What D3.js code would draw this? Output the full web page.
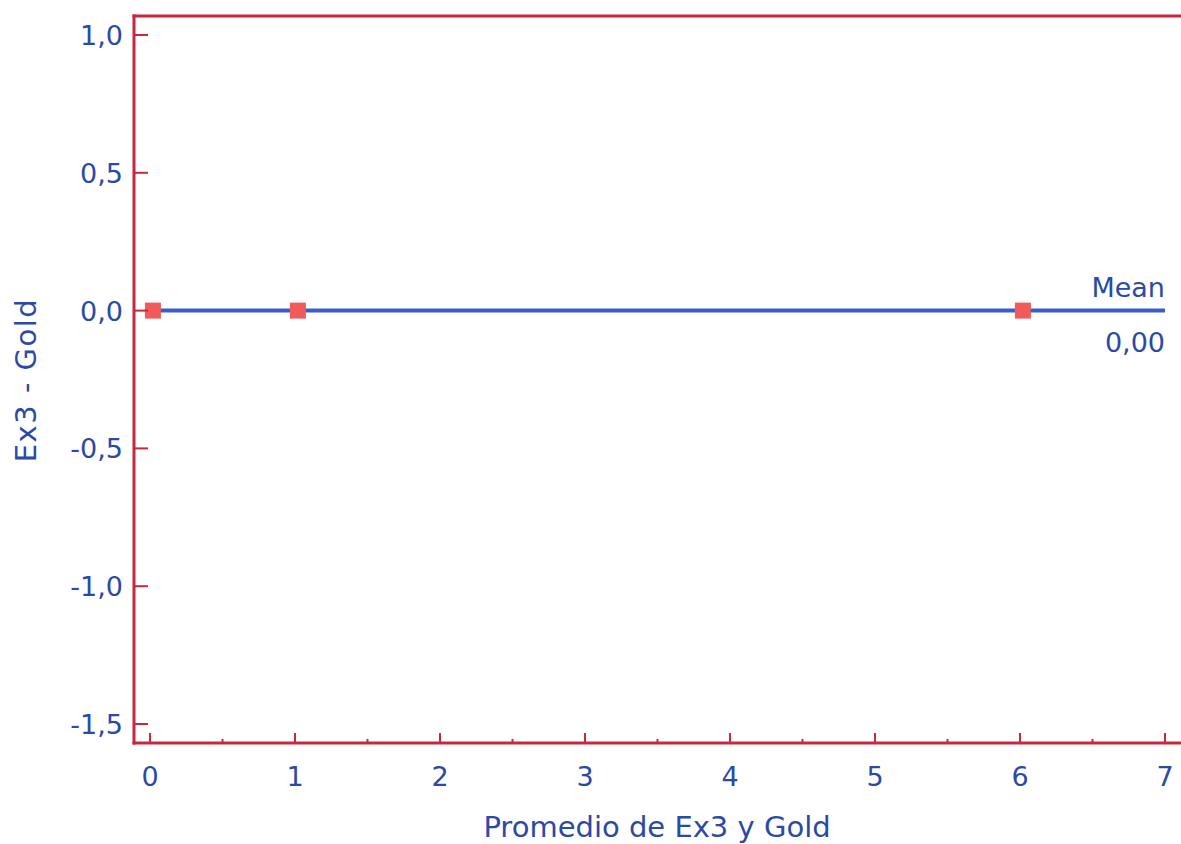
<!DOCTYPE html>
<meta charset="utf-8">
<style>
body { margin: 0; background: #fff; overflow: hidden; }
text { font-family: "DejaVu Sans", sans-serif; fill: #2a4aa6; }
</style>
<body>
<script src="https://cdn.jsdelivr.net/npm/d3@7"></script>
<script>

// data
var xVals = [0.02, 1.02, 6.02];   // Promedio de Ex3 y Gold
var yVals = [0, 0, 0];            // Ex3 - Gold
var meanVal = 0;
var xTicks = [0, 1, 2, 3, 4, 5, 6, 7];
var xMinor = [0.5, 1.5, 2.5, 3.5, 4.5, 5.5, 6.5];
var yTicks = [1.0, 0.5, 0.0, -0.5, -1.0, -1.5];

var W = 1181, H = 844;
var plotLeft = 134, plotTop = 16, plotBottom = 743, plotRight = 1190;

var x = d3.scaleLinear().domain([0, 7]).range([150, 1165]);
var y = d3.scaleLinear().domain([1, -1.5]).range([35, 724]);

var fmt = function(d) { return d3.format(".1f")(d).replace(".", ",").replace("−", "-"); };

var svg = d3.select("body").append("svg")
    .attr("width", W)
    .attr("height", H)
    .style("display", "block");

var red = "#c8283c";

// mean line
svg.append("line")
    .attr("x1", x(d3.min(xVals))).attr("x2", x(7))
    .attr("y1", y(meanVal)).attr("y2", y(meanVal))
    .attr("stroke", "#3a5ccc").attr("stroke-width", 4);

svg.append("text")
    .attr("x", 1165).attr("y", 297)
    .attr("text-anchor", "end")
    .style("font-size", "27px")
    .text("Mean");
svg.append("text")
    .attr("x", 1165).attr("y", 352)
    .attr("text-anchor", "end")
    .style("font-size", "27px")
    .text(d3.format(".2f")(meanVal).replace(".", ","));

// points
svg.selectAll(".pt")
    .data(xVals)
  .enter().append("rect")
    .attr("class", "pt")
    .attr("x", function(d) { return x(d) - 8; })
    .attr("y", function(d, i) { return y(yVals[i]) - 8; })
    .attr("width", 16).attr("height", 16)
    .attr("fill", "#f05a5a");

// frame: left, top and bottom sides only (right side is off the page)
svg.append("rect")
    .attr("x", plotLeft - 1.5).attr("y", plotTop - 1.5)
    .attr("width", plotRight - plotLeft + 1.5).attr("height", 3)
    .attr("fill", red);
svg.append("rect")
    .attr("x", plotLeft - 1.5).attr("y", plotTop - 1.5)
    .attr("width", 3).attr("height", plotBottom - plotTop + 3)
    .attr("fill", red);
svg.append("rect")
    .attr("x", plotLeft - 1.5).attr("y", plotBottom - 1.5)
    .attr("width", plotRight - plotLeft + 1.5).attr("height", 3)
    .attr("fill", red);

// y axis
var yAxis = svg.append("g");
yAxis.selectAll("line")
    .data(yTicks)
  .enter().append("line")
    .attr("x1", plotLeft).attr("x2", plotLeft + 14)
    .attr("y1", function(d) { return y(d); })
    .attr("y2", function(d) { return y(d); })
    .attr("stroke", red).attr("stroke-width", 2);
yAxis.selectAll("text")
    .data(yTicks)
  .enter().append("text")
    .attr("x", 123)
    .attr("y", function(d) { return y(d) + 10; })
    .attr("text-anchor", "end")
    .style("font-size", "27px")
    .text(fmt);

// x axis
var xAxis = svg.append("g");
xAxis.selectAll(".major")
    .data(xTicks)
  .enter().append("line")
    .attr("class", "major")
    .attr("x1", function(d) { return x(d); })
    .attr("x2", function(d) { return x(d); })
    .attr("y1", plotBottom).attr("y2", plotBottom - 10)
    .attr("stroke", red).attr("stroke-width", 2);
xAxis.selectAll(".minor")
    .data(xMinor)
  .enter().append("line")
    .attr("class", "minor")
    .attr("x1", function(d) { return x(d); })
    .attr("x2", function(d) { return x(d); })
    .attr("y1", plotBottom).attr("y2", plotBottom - 4)
    .attr("stroke", red).attr("stroke-width", 2);
xAxis.selectAll("text")
    .data(xTicks)
  .enter().append("text")
    .attr("x", function(d) { return x(d); })
    .attr("y", 786)
    .attr("text-anchor", "middle")
    .style("font-size", "27px")
    .text(function(d) { return d; });

// axis titles
svg.append("text")
    .attr("x", 657).attr("y", 837)
    .attr("text-anchor", "middle")
    .style("font-size", "29px")
    .text("Promedio de Ex3 y Gold");

svg.append("text")
    .attr("transform", "translate(36,380) rotate(-90)")
    .attr("text-anchor", "middle")
    .style("font-size", "29px")
    .attr("letter-spacing", 1.5)
    .text("Ex3 - Gold");

</script>
</body>
